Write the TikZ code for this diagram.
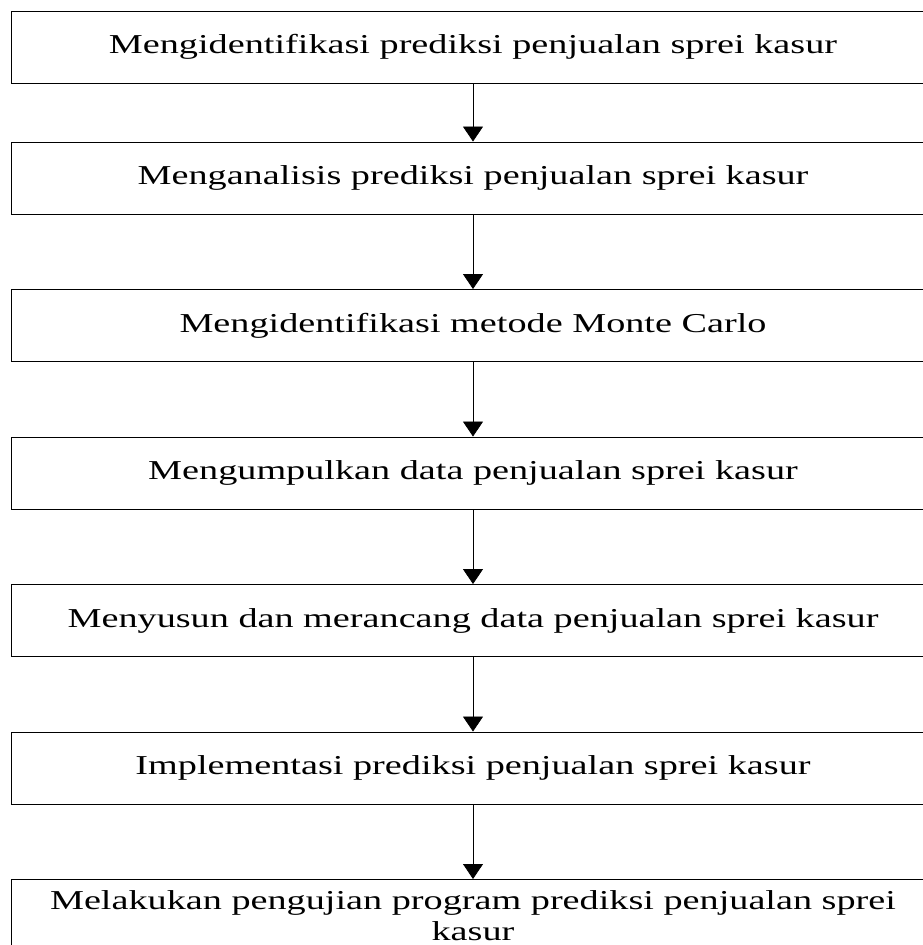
\documentclass[tikz,border=0pt]{standalone}
\usepackage{fontspec}
\setmainfont{Liberation Serif}[FakeStretch=1.4]
\usetikzlibrary{arrows.meta}

\begin{document}
\begin{tikzpicture}[x=1pt,y=-1pt,
    procbox/.style={draw, line width=0.9pt, minimum width=924pt, minimum height=72pt,
        inner sep=0pt, align=center, font=\fontsize{27.3}{33}\selectfont},
    flow/.style={-{Triangle[width=20pt,length=15pt]}, line width=0.8pt}]
    \useasboundingbox (0,0) rectangle (922,945);

    % Define boxes
    \foreach \i/\ypos/\txt in {1/47/Mengidentifikasi prediksi penjualan sprei kasur,
        2/178/Menganalisis prediksi penjualan sprei kasur,
        3/325.5/Mengidentifikasi metode Monte Carlo,
        4/473/Mengumpulkan data penjualan sprei kasur,
        5/620.5/Menyusun dan merancang data penjualan sprei kasur,
        6/768/Implementasi prediksi penjualan sprei kasur} {
        \node[procbox] (b\i) at (473,\ypos) {\txt};
    }
    \node[procbox, anchor=north, inner ysep=9pt, font=\fontsize{27.3}{31}\selectfont] (b7) at (473,879)
        {Melakukan pengujian program prediksi penjualan sprei\\kasur};

    % Connect boxes
    \foreach \i/\j in {1/2,2/3,3/4,4/5,5/6,6/7} {
        \draw[flow] (b\i) -- (b\j);
    }

\end{tikzpicture}
\end{document}
